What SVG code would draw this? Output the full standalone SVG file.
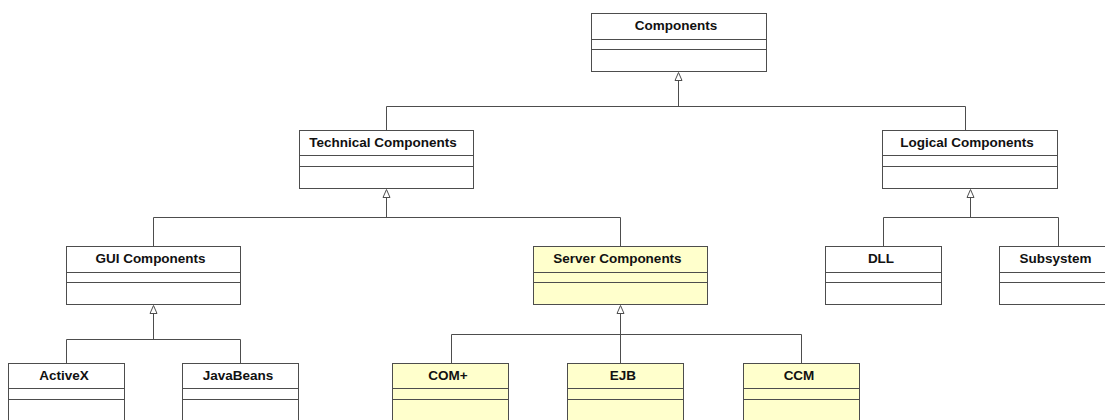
<svg xmlns="http://www.w3.org/2000/svg" width="1105" height="420" viewBox="0 0 1105 420">
<style>
.box{fill:#ffffff;stroke:#4d4d4d;stroke-width:1}
.y .box{fill:#ffffcc}
.sep{stroke:#4d4d4d;stroke-width:1}
.t{font-family:"Liberation Sans",Arial,sans-serif;font-weight:bold;font-size:13.5px;fill:#111;text-anchor:middle}
.c{fill:none;stroke:#4d4d4d;stroke-width:1}
</style>
<defs>
<marker id="gen" viewBox="0 0 8 9" refX="0" refY="4.5" markerWidth="8" markerHeight="9" markerUnits="userSpaceOnUse" orient="auto" overflow="visible">
<path d="M0,1 L8,4.5 L0,8 Z" fill="#fff" stroke="#4d4d4d" stroke-width="1"/>
</marker>
</defs>
<rect width="1105" height="420" fill="#fff"/>
<g id="connectors">
<path class="c" d="M678.5,106.5 V80.5" marker-end="url(#gen)"/>
<path class="c" d="M386.5,106.5 H965.5 M386.5,106.5 V130.5 M965.5,106.5 V130.5"/>
<path class="c" d="M386.5,217.5 V197.5" marker-end="url(#gen)"/>
<path class="c" d="M153.5,217.5 H620.5 M153.5,217.5 V246.5 M620.5,217.5 V246.5"/>
<path class="c" d="M970.5,217.5 V197.5" marker-end="url(#gen)"/>
<path class="c" d="M883.5,217.5 H1058.5 M883.5,217.5 V246.5 M1058.5,217.5 V246.5"/>
<path class="c" d="M153.5,339.5 V313.5" marker-end="url(#gen)"/>
<path class="c" d="M66.5,339.5 H240.5 M66.5,339.5 V363.5 M240.5,339.5 V363.5"/>
<path class="c" d="M620.5,363.5 V313.5" marker-end="url(#gen)"/>
<path class="c" d="M451.5,334.5 H801.5 M451.5,334.5 V363.5 M801.5,334.5 V363.5"/>
</g>
<g id="components">
<rect class="box" x="591.5" y="13.5" width="175" height="58"/>
<line class="sep" x1="591.5" y1="39.5" x2="766.5" y2="39.5"/>
<line class="sep" x1="591.5" y1="49.5" x2="766.5" y2="49.5"/>
<text class="t" x="676" y="29.5">Components</text>
</g>
<g id="technical-components">
<rect class="box" x="299.5" y="130.5" width="174" height="58"/>
<line class="sep" x1="299.5" y1="155.5" x2="473.5" y2="155.5"/>
<line class="sep" x1="299.5" y1="166.5" x2="473.5" y2="166.5"/>
<text class="t" x="383" y="146.5">Technical Components</text>
</g>
<g id="logical-components">
<rect class="box" x="882.5" y="130.5" width="175" height="58"/>
<line class="sep" x1="882.5" y1="155.5" x2="1057.5" y2="155.5"/>
<line class="sep" x1="882.5" y1="166.5" x2="1057.5" y2="166.5"/>
<text class="t" x="967" y="146.5">Logical Components</text>
</g>
<g id="gui-components">
<rect class="box" x="66.5" y="246.5" width="174" height="58"/>
<line class="sep" x1="66.5" y1="272.5" x2="240.5" y2="272.5"/>
<line class="sep" x1="66.5" y1="282.5" x2="240.5" y2="282.5"/>
<text class="t" x="150.5" y="262.5">GUI Components</text>
</g>
<g id="server-components" class="y">
<rect class="box" x="533.5" y="246.5" width="174" height="58"/>
<line class="sep" x1="533.5" y1="272.5" x2="707.5" y2="272.5"/>
<line class="sep" x1="533.5" y1="282.5" x2="707.5" y2="282.5"/>
<text class="t" x="617.5" y="262.5">Server Components</text>
</g>
<g id="dll">
<rect class="box" x="825.5" y="246.5" width="116" height="58"/>
<line class="sep" x1="825.5" y1="272.5" x2="941.5" y2="272.5"/>
<line class="sep" x1="825.5" y1="282.5" x2="941.5" y2="282.5"/>
<text class="t" x="881" y="262.5">DLL</text>
</g>
<g id="subsystem">
<rect class="box" x="999.5" y="246.5" width="116" height="58"/>
<line class="sep" x1="999.5" y1="272.5" x2="1115.5" y2="272.5"/>
<line class="sep" x1="999.5" y1="282.5" x2="1115.5" y2="282.5"/>
<text class="t" x="1055.5" y="262.5">Subsystem</text>
</g>
<g id="activex">
<rect class="box" x="8.5" y="363.5" width="116" height="58"/>
<line class="sep" x1="8.5" y1="388.5" x2="124.5" y2="388.5"/>
<line class="sep" x1="8.5" y1="399.5" x2="124.5" y2="399.5"/>
<text class="t" x="64" y="379.5">ActiveX</text>
</g>
<g id="javabeans">
<rect class="box" x="182.5" y="363.5" width="116" height="58"/>
<line class="sep" x1="182.5" y1="388.5" x2="298.5" y2="388.5"/>
<line class="sep" x1="182.5" y1="399.5" x2="298.5" y2="399.5"/>
<text class="t" x="238" y="379.5">JavaBeans</text>
</g>
<g id="com-plus" class="y">
<rect class="box" x="392.5" y="363.5" width="116" height="58"/>
<line class="sep" x1="392.5" y1="388.5" x2="508.5" y2="388.5"/>
<line class="sep" x1="392.5" y1="399.5" x2="508.5" y2="399.5"/>
<text class="t" x="448" y="379.5">COM+</text>
</g>
<g id="ejb" class="y">
<rect class="box" x="567.5" y="363.5" width="116" height="58"/>
<line class="sep" x1="567.5" y1="388.5" x2="683.5" y2="388.5"/>
<line class="sep" x1="567.5" y1="399.5" x2="683.5" y2="399.5"/>
<text class="t" x="623" y="379.5">EJB</text>
</g>
<g id="ccm" class="y">
<rect class="box" x="743.5" y="363.5" width="116" height="58"/>
<line class="sep" x1="743.5" y1="388.5" x2="859.5" y2="388.5"/>
<line class="sep" x1="743.5" y1="399.5" x2="859.5" y2="399.5"/>
<text class="t" x="799" y="379.5">CCM</text>
</g>
</svg>
